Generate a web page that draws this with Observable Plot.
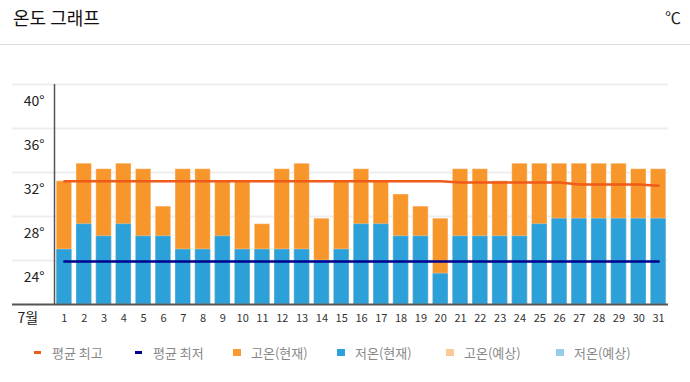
<!DOCTYPE html>
<html><head><meta charset="utf-8">
<script src="https://cdn.jsdelivr.net/npm/d3@7"></script>
<script src="https://cdn.jsdelivr.net/npm/@observablehq/plot@0.6"></script>
<style>
html,body{margin:0;padding:0;background:#fff;}
body{font-family:"Noto Sans CJK KR","Noto Sans",sans-serif;}
#wrap{position:relative;width:690px;height:382px;overflow:hidden;}
#head{position:absolute;left:0;top:0;width:690px;height:44px;border-bottom:1px solid #dddddd;}
#title{position:absolute;left:13px;top:0;font-size:18px;line-height:34px;color:#111;}
#unit{position:absolute;right:9px;top:0;font-size:16px;line-height:34px;color:#222;}
#chart{position:absolute;left:0;top:45px;}
#legend{position:absolute;left:0;top:335px;width:690px;display:flex;align-items:center;height:34px;padding-left:34px;box-sizing:border-box;}
.item{display:flex;align-items:center;font-size:13px;color:#888;flex:none;}
.item:nth-child(1){width:101px;}
.item:nth-child(2){width:98px;}
.item:nth-child(3){width:104px;}
.item:nth-child(4){width:109px;}
.item:nth-child(5){width:110px;}
.mk{display:inline-block;flex:none;}
.mk.line{width:7px;height:3px;margin-right:11px;}
.mk.box{width:8px;height:7px;margin-right:10px;}
</style></head>
<body><div id="wrap">
<div id="head"><div id="title">온도 그래프</div><div id="unit">℃</div></div>
<div id="chart"></div>
<div id="legend"></div>
</div>
<script>
const days = [1,2,3,4,5,6,7,8,9,10,11,12,13,14,15,16,17,18,19,20,21,22,23,24,25,26,27,28,29,30,31];
const hiNow = [31.2,32.8,32.3,32.8,32.3,28.9,32.3,32.3,31.2,31.2,27.3,32.3,32.8,27.8,31.2,32.3,31.2,30.0,28.9,27.8,32.3,32.3,31.2,32.8,32.8,32.8,32.8,32.8,32.8,32.3,32.3];
const loNow = [25.0,27.3,26.2,27.3,26.2,26.2,25.0,25.0,26.2,25.0,25.0,25.0,25.0,24.0,25.0,27.3,27.3,26.2,26.2,22.8,26.2,26.2,26.2,26.2,27.3,27.8,27.8,27.8,27.8,27.8,27.8];
const avgMax = [31.2,31.2,31.2,31.2,31.2,31.2,31.2,31.2,31.2,31.2,31.2,31.2,31.2,31.2,31.2,31.2,31.2,31.2,31.2,31.2,31.1,31.1,31.1,31.1,31.1,31.1,30.9,30.9,30.9,30.9,30.8];
const avgMin = [23.9,23.9,23.9,23.9,23.9,23.9,23.9,23.9,23.9,23.9,23.9,23.9,23.9,23.9,23.9,23.9,23.9,23.9,23.9,23.9,23.9,23.9,23.9,23.9,23.9,23.9,23.9,23.9,23.9,23.9,23.9];
const yTicks = [40,36,32,28,24];
const monthLabel = "7월";
const legendLabels = ["평균 최고","평균 최저","고온(현재)","저온(현재)","고온(예상)","저온(예상)"];
const legendColors = ["#F05A1A","#00008F","#F99A33","#2CA0D8","#FDC996","#97CCEA"];
const legendKinds = ["line","line","box","box","box","box"];

const data = days.map((d,i)=>({day:d, hi:hiNow[i], lo:loNow[i], amax:avgMax[i], amin:avgMin[i]}));
const font = '"Noto Sans CJK KR","Noto Sans",sans-serif';

const chart = Plot.plot({
  width: 690, height: 290,
  marginLeft: 54, marginRight: 22, marginTop: 39, marginBottom: 31,
  style: {fontFamily: font, background: "transparent", overflow: "visible"},
  x: {type: "band", domain: days, paddingInner: 0.22, paddingOuter: 0.11, round: false, label: null},
  y: {domain: [20, 40], label: null},
  marks: [
    Plot.ruleY(yTicks, {stroke: "#eeeeee", strokeWidth: 2, insetLeft: -42}),
    Plot.barY(data, {x: "day", y1: 20, y2: "hi", fill: "#F7962A", stroke: "#ffffff", strokeOpacity: 0.4, strokeWidth: 1}),
    Plot.barY(data, {x: "day", y1: 20, y2: "lo", fill: "#2CA0D8", stroke: "#ffffff", strokeOpacity: 0.3, strokeWidth: 1}),
    Plot.lineY(data, {x: "day", y: "amax", stroke: "#F05A1A", strokeWidth: 2.5}),
    Plot.lineY(data, {x: "day", y: "amin", stroke: "#00008F", strokeWidth: 2.5}),
    Plot.ruleY([20], {stroke: "#555555", strokeWidth: 2, insetLeft: -42}),
    Plot.ruleX([0], {x: null, y1: 20, y2: 40, dx: -307, stroke: "#555555", strokeWidth: 1.5}),
    Plot.axisY(yTicks, {tickSize: 0, tickPadding: 10, tickFormat: d => d + "°", dy: 17, fontSize: 14, fill: "#222", label: null}),
    Plot.axisX({tickSize: 0, tickPadding: 10, fontSize: 11, fill: "#333", label: null}),
    Plot.text([monthLabel], {frameAnchor: "bottom-left", dx: -37, dy: 14, textAnchor: "start", lineAnchor: "middle", fontSize: 14, fill: "#222"})
  ]
});
document.getElementById("chart").appendChild(chart);

const leg = document.getElementById("legend");
legendLabels.forEach((t,i)=>{
  const it = document.createElement("div"); it.className = "item";
  const mk = document.createElement("span"); mk.className = "mk " + legendKinds[i];
  mk.style.background = legendColors[i];
  const tx = document.createElement("span"); tx.textContent = t;
  it.appendChild(mk); it.appendChild(tx); leg.appendChild(it);
});
</script>
</body></html>
